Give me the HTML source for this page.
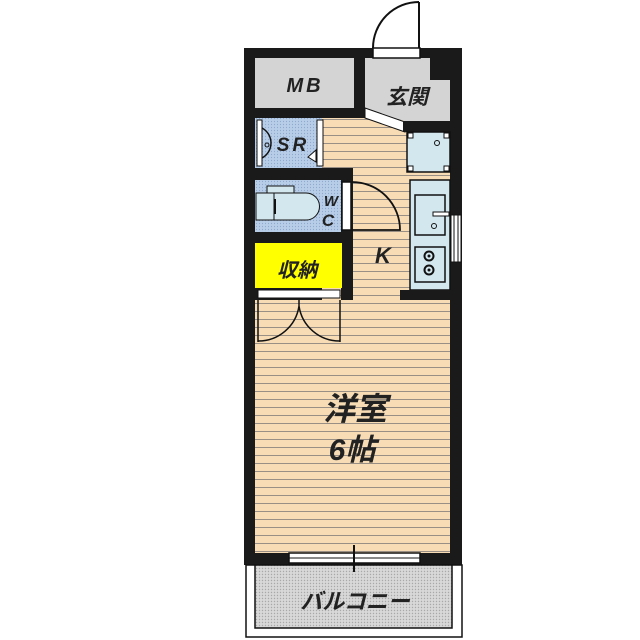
<!DOCTYPE html>
<html><head><meta charset="utf-8"><style>
html,body{margin:0;padding:0;background:#fff}
svg{display:block}
text{font-family:"Liberation Sans","Noto Sans CJK JP",sans-serif;font-weight:bold;font-style:italic;fill:#222}
</style></head><body>
<svg width="640" height="640" viewBox="0 0 640 640" xmlns="http://www.w3.org/2000/svg">
<defs>
<pattern id="fl" width="8" height="8" patternUnits="userSpaceOnUse">
<rect width="8" height="8" fill="#f7dcb6"/><line x1="0" y1="7.5" x2="8" y2="7.5" stroke="#9a8f84" stroke-width="1"/>
</pattern>
<pattern id="dots" width="3" height="3" patternUnits="userSpaceOnUse">
<rect width="3" height="3" fill="#d8d8d8"/><circle cx="1.5" cy="1.5" r="0.7" fill="#a8a8a8"/>
</pattern>
<pattern id="bdots" width="3" height="3" patternUnits="userSpaceOnUse">
<rect width="3" height="3" fill="#b7cde8"/><circle cx="1.5" cy="1.5" r="0.6" fill="#8ea9cc"/>
</pattern>
</defs>
<rect x="244" y="48" width="218" height="517" fill="#1a1a1a"/>
<rect x="322" y="118" width="128" height="435" fill="url(#fl)"/>
<rect x="255" y="300" width="195" height="253" fill="url(#fl)"/>
<!-- interior walls -->
<rect x="255" y="168" width="98" height="12" fill="#1a1a1a"/>
<rect x="341" y="180" width="12" height="120" fill="#1a1a1a"/>
<!-- MB -->
<rect x="255" y="58" width="99" height="50" fill="#d4d4d4"/>
<text x="305" y="92" font-size="20" text-anchor="middle" letter-spacing="3">MB</text>
<polygon points="365,58 430,58 430,80 450,80 450,121 405,121 365,110" fill="#d4d4d4"/>
<text x="407" y="104" font-size="21" text-anchor="middle">玄関</text>
<polygon points="365,108 405,122 405,132 365,118" fill="#fff" stroke="#111" stroke-width="1"/>
<rect x="373" y="48" width="47" height="10" fill="#fff" stroke="#111" stroke-width="1.5"/>
<path d="M419,2 L419,48 M419,2 A46,46 0 0 0 373,48" fill="none" stroke="#111" stroke-width="2"/>
<rect x="403" y="121" width="57" height="11" fill="#1a1a1a"/>
<!-- SR -->
<rect x="255" y="118" width="67" height="50" fill="url(#bdots)"/>
<rect x="257" y="120" width="5" height="46" fill="#fff" stroke="#111"/>
<rect x="317" y="120" width="6" height="46" fill="#fff" stroke="#111"/>
<path d="M262,128 A17,17 0 0 1 262,158" fill="none" stroke="#111" stroke-width="1.5"/>
<circle cx="267" cy="145" r="2" fill="none" stroke="#111"/>
<polygon points="316,150 316,162 308,157" fill="#fff" stroke="#111"/>
<text x="293" y="151" font-size="19" text-anchor="middle" letter-spacing="3">SR</text>
<!-- WC -->
<rect x="255" y="180" width="86" height="52" fill="url(#bdots)"/>
<rect x="267" y="186" width="27" height="7" fill="#d3e8ee" stroke="#111"/>
<rect x="256" y="193" width="18" height="27" fill="#d3e8ee" stroke="#111"/>
<path d="M274,193 L306,193 A13.5,13.5 0 0 1 306,220 L274,220 Z" fill="#d3e8ee" stroke="#111"/>
<line x1="275" y1="199" x2="275" y2="214" stroke="#111" stroke-width="2"/>
<text x="331" y="206" font-size="15" text-anchor="middle">W</text>
<text x="328" y="226" font-size="17" text-anchor="middle">C</text>
<rect x="342" y="182" width="9" height="48" fill="#fff" stroke="#111" stroke-width="1.5"/>
<path d="M352,182 A48,48 0 0 1 400,230 L352,230" fill="none" stroke="#111" stroke-width="1.8"/>
<rect x="255" y="232" width="98" height="11" fill="#1a1a1a"/>
<!-- storage -->
<rect x="255" y="243" width="87" height="45" fill="#ffff00"/>
<text x="297" y="277" font-size="20" text-anchor="middle">収納</text>
<rect x="258" y="290" width="82" height="8" fill="#fff" stroke="#111"/>
<path d="M258,300 L258,342 M340,300 L340,342 M299,300 L299,306 M258,341 A41,41 0 0 0 299,306 M340,341 A41,41 0 0 1 299,306" fill="none" stroke="#111" stroke-width="1.5"/>
<!-- kitchen -->
<rect x="407" y="132" width="43" height="40" fill="#d3e8ee" stroke="#111" stroke-width="1.5"/>
<rect x="408" y="133" width="5" height="5" fill="#fff" stroke="#111"/><rect x="444" y="133" width="5" height="5" fill="#fff" stroke="#111"/>
<rect x="408" y="166" width="5" height="5" fill="#fff" stroke="#111"/><rect x="444" y="166" width="5" height="5" fill="#fff" stroke="#111"/>
<circle cx="437" cy="143" r="2.5" fill="none" stroke="#111"/>
<rect x="410" y="180" width="40" height="110" fill="#d3e8ee" stroke="#111" stroke-width="1.5"/>
<rect x="415" y="195" width="30" height="40" fill="#d3e8ee" stroke="#111" stroke-width="1.5"/>
<rect x="433" y="212" width="16" height="4" fill="#fff" stroke="#111"/>
<circle cx="434" cy="226" r="2.5" fill="none" stroke="#111"/>
<rect x="415" y="247" width="30" height="35" fill="#d3e8ee" stroke="#111" stroke-width="1.5"/>
<circle cx="429" cy="256" r="4.5" fill="none" stroke="#111" stroke-width="2"/><circle cx="429" cy="256" r="1.5" fill="#111"/>
<circle cx="429" cy="270" r="4.5" fill="none" stroke="#111" stroke-width="2"/><circle cx="429" cy="270" r="1.5" fill="#111"/>
<rect x="451" y="215" width="10" height="47" fill="#fff" stroke="#111"/>
<line x1="454" y1="215" x2="454" y2="262" stroke="#111"/><line x1="458" y1="215" x2="458" y2="262" stroke="#111"/>
<rect x="400" y="290" width="61" height="10" fill="#1a1a1a"/>
<text x="383" y="263" font-size="22" text-anchor="middle">K</text>
<text x="355" y="420" font-size="32" text-anchor="middle">洋室</text>
<text x="352" y="460" font-size="30" text-anchor="middle">6帖</text>
<!-- balcony -->
<rect x="246" y="565" width="216" height="72" fill="#fff" stroke="#111" stroke-width="1.5"/>
<rect x="255" y="565" width="197" height="63" fill="url(#dots)" stroke="#111" stroke-width="1.5"/>
<text x="355" y="609" font-size="22" text-anchor="middle">バルコニー</text>
<rect x="289" y="553" width="131" height="10" fill="#fff" stroke="#111" stroke-width="1.5"/>
<line x1="289" y1="558" x2="420" y2="558" stroke="#111"/>
<line x1="354" y1="545" x2="354" y2="572" stroke="#111" stroke-width="2"/>
</svg>
</body></html>
